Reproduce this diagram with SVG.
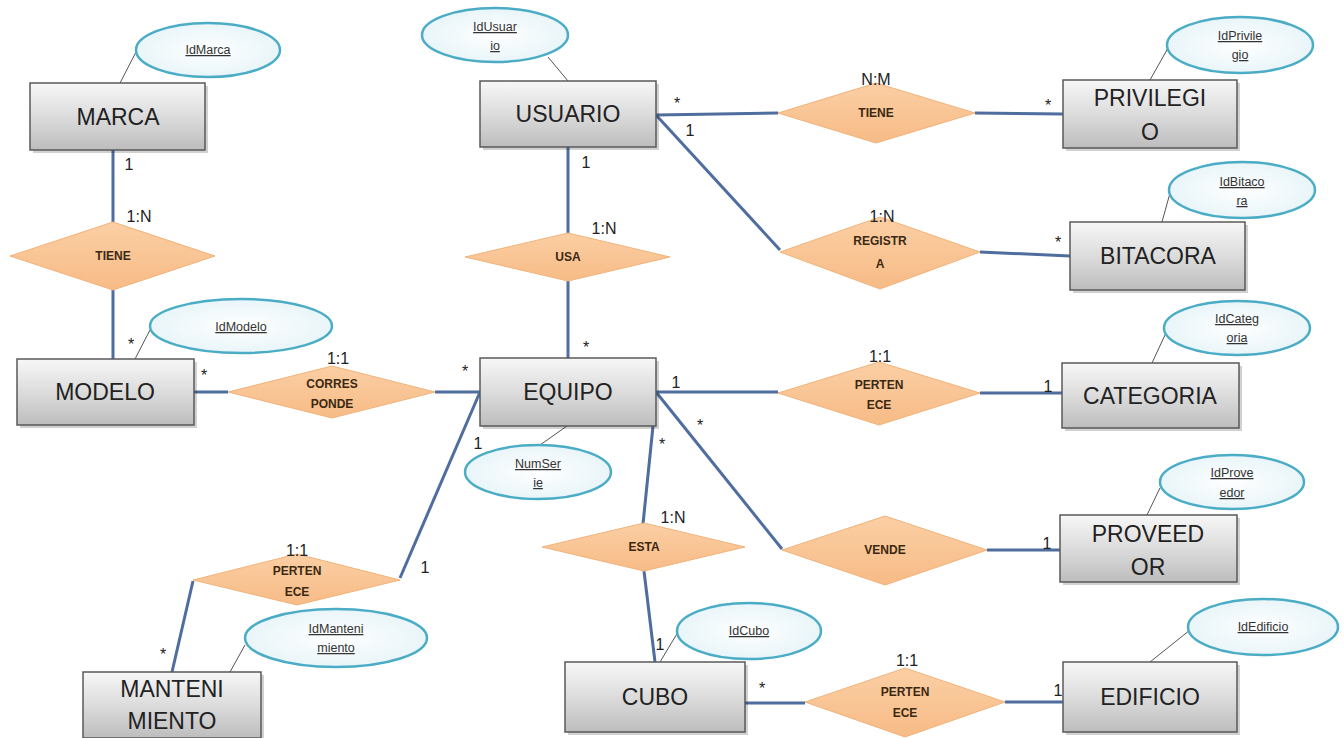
<svg xmlns="http://www.w3.org/2000/svg" width="1344" height="738" viewBox="0 0 1344 738">
<defs>
<linearGradient id="gEnt" x1="0" y1="0" x2="0" y2="1">
<stop offset="0" stop-color="#f7f7f7"/><stop offset="0.5" stop-color="#dcdcdc"/><stop offset="1" stop-color="#bdbdbd"/>
</linearGradient>
<radialGradient id="gAtt" cx="0.5" cy="0.5" r="0.6">
<stop offset="0" stop-color="#ffffff"/><stop offset="1" stop-color="#e4f3f8"/>
</radialGradient>
<linearGradient id="gRel" x1="0" y1="0" x2="0" y2="1">
<stop offset="0" stop-color="#fbcfa4"/><stop offset="1" stop-color="#f7bb86"/>
</linearGradient>
</defs>
<style>
.ent rect.b{fill:url(#gEnt);stroke:#595959;stroke-width:1.5}
.ent rect.s{fill:#000;opacity:0.18}
.ent text{font-family:"Liberation Sans",Arial,sans-serif;font-size:23px;fill:#222;text-anchor:middle}
.att ellipse{fill:url(#gAtt);stroke:#4bacc6;stroke-width:2.5}
.att text{font-family:"Liberation Sans",Arial,sans-serif;font-size:12.5px;fill:#333;text-anchor:middle;text-decoration:underline}
.att line{stroke:#555;stroke-width:1}
.rel polygon{fill:url(#gRel);stroke:#f2b37a;stroke-width:1}
.rel text{font-family:"Liberation Sans",Arial,sans-serif;font-size:12px;fill:#3b2812;text-anchor:middle;font-weight:bold}
.con line,.con polyline{stroke:#4f6d9e;stroke-width:3;fill:none}
.lbl text{font-family:"Liberation Sans",Arial,sans-serif;font-size:16px;fill:#222;text-anchor:middle}
</style>
<rect width="1344" height="738" fill="#ffffff"/>

<g id="connectors" class="con">
<line x1="113" y1="150" x2="113" y2="222"/>
<line x1="113" y1="290" x2="113" y2="359"/>
<line x1="194" y1="392" x2="228" y2="392"/>
<line x1="435" y1="392" x2="480" y2="392"/>
<line x1="568" y1="147" x2="568" y2="233"/>
<line x1="568" y1="281" x2="568" y2="358"/>
<line x1="656" y1="115" x2="778" y2="113"/>
<line x1="975" y1="113" x2="1063" y2="114"/>
<polyline points="656,115 780,250"/>
<line x1="980" y1="252" x2="1070" y2="256"/>
<line x1="656" y1="392" x2="778" y2="392"/>
<line x1="980" y1="393" x2="1062" y2="393"/>
<line x1="656" y1="392" x2="782" y2="549"/>
<line x1="987" y1="550" x2="1060" y2="550"/>
<line x1="653" y1="426" x2="643" y2="524"/>
<line x1="644" y1="571" x2="655" y2="662"/>
<line x1="745" y1="703" x2="805" y2="703"/>
<line x1="1005" y1="702" x2="1063" y2="702"/>
<line x1="480" y1="392" x2="400" y2="578"/>
<line x1="193" y1="581" x2="172" y2="672"/>
</g>

<g id="attr-lines" class="att">
<line x1="120" y1="83" x2="136" y2="52"/>
<line x1="568" y1="81" x2="548" y2="57"/>
<line x1="1150" y1="80" x2="1168" y2="48"/>
<line x1="1162" y1="222" x2="1170" y2="193"/>
<line x1="135" y1="359" x2="150" y2="330"/>
<line x1="1152" y1="363" x2="1165" y2="335"/>
<line x1="567" y1="426" x2="540" y2="445"/>
<line x1="1147" y1="515" x2="1160" y2="488"/>
<line x1="660" y1="662" x2="678" y2="632"/>
<line x1="1150" y1="662" x2="1190" y2="630"/>
<line x1="230" y1="672" x2="245" y2="645"/>
</g>

<g id="MARCA" class="ent"><rect class="s" x="33" y="86" width="175" height="67"/><rect class="b" x="30" y="83" width="175" height="67"/><text x="118" y="125">MARCA</text></g>
<g id="USUARIO" class="ent"><rect class="s" x="483" y="84" width="176" height="66"/><rect class="b" x="480" y="81" width="176" height="66"/><text x="568" y="122">USUARIO</text></g>
<g id="PRIVILEGIO" class="ent"><rect class="s" x="1066" y="83" width="174" height="68"/><rect class="b" x="1063" y="80" width="174" height="68"/><text x="1150" y="106">PRIVILEGI</text><text x="1150" y="140">O</text></g>
<g id="BITACORA" class="ent"><rect class="s" x="1073" y="225" width="175" height="68"/><rect class="b" x="1070" y="222" width="175" height="68"/><text x="1158" y="264">BITACORA</text></g>
<g id="MODELO" class="ent"><rect class="s" x="20" y="362" width="177" height="66"/><rect class="b" x="17" y="359" width="177" height="66"/><text x="105" y="400">MODELO</text></g>
<g id="EQUIPO" class="ent"><rect class="s" x="483" y="361" width="176" height="68"/><rect class="b" x="480" y="358" width="176" height="68"/><text x="568" y="400">EQUIPO</text></g>
<g id="CATEGORIA" class="ent"><rect class="s" x="1065" y="366" width="177" height="65"/><rect class="b" x="1062" y="363" width="177" height="65"/><text x="1150" y="404">CATEGORIA</text></g>
<g id="PROVEEDOR" class="ent"><rect class="s" x="1063" y="518" width="177" height="67"/><rect class="b" x="1060" y="515" width="177" height="67"/><text x="1148" y="542">PROVEED</text><text x="1148" y="575">OR</text></g>
<g id="CUBO" class="ent"><rect class="s" x="568" y="665" width="180" height="70"/><rect class="b" x="565" y="662" width="180" height="70"/><text x="655" y="705">CUBO</text></g>
<g id="EDIFICIO" class="ent"><rect class="s" x="1066" y="665" width="174" height="70"/><rect class="b" x="1063" y="662" width="174" height="70"/><text x="1150" y="705">EDIFICIO</text></g>
<g id="MANTENIMIENTO" class="ent"><rect class="s" x="86" y="675" width="178" height="66"/><rect class="b" x="83" y="672" width="178" height="66"/><text x="172" y="697">MANTENI</text><text x="172" y="729">MIENTO</text></g>

<g id="IdMarca" class="att"><ellipse cx="208" cy="50" rx="72" ry="27"/><text x="208" y="54">IdMarca</text></g>
<g id="IdUsuario" class="att"><ellipse cx="495" cy="35" rx="73" ry="27"/><text x="495" y="31">IdUsuar</text><text x="495" y="50">io</text></g>
<g id="IdPrivilegio" class="att"><ellipse cx="1240" cy="45" rx="73" ry="28"/><text x="1240" y="40">IdPrivile</text><text x="1240" y="59">gio</text></g>
<g id="IdBitacora" class="att"><ellipse cx="1242" cy="190" rx="73" ry="28"/><text x="1242" y="186">IdBitaco</text><text x="1242" y="205">ra</text></g>
<g id="IdModelo" class="att"><ellipse cx="241" cy="326" rx="91" ry="27"/><text x="241" y="331">IdModelo</text></g>
<g id="IdCategoria" class="att"><ellipse cx="1237" cy="328" rx="73" ry="27"/><text x="1237" y="323">IdCateg</text><text x="1237" y="342">oria</text></g>
<g id="NumSerie" class="att"><ellipse cx="538" cy="472" rx="73" ry="27"/><text x="538" y="468">NumSer</text><text x="538" y="487">ie</text></g>
<g id="IdProveedor" class="att"><ellipse cx="1232" cy="482" rx="72" ry="27"/><text x="1232" y="477">IdProve</text><text x="1232" y="497">edor</text></g>
<g id="IdCubo" class="att"><ellipse cx="749" cy="631" rx="72" ry="28"/><text x="749" y="635">IdCubo</text></g>
<g id="IdEdificio" class="att"><ellipse cx="1263" cy="627" rx="75" ry="28"/><text x="1263" y="631">IdEdificio</text></g>
<g id="IdMantenimiento" class="att"><ellipse cx="336" cy="638" rx="91" ry="29"/><text x="336" y="633">IdManteni</text><text x="336" y="652">miento</text></g>

<g id="rel-TIENE-MARCA" class="rel"><polygon points="10,256 113,222 215,256 113,290"/><text x="113" y="260">TIENE</text></g>
<g id="rel-CORRESPONDE" class="rel"><polygon points="228,392 332,366 435,392 332,418"/><text x="332" y="388">CORRES</text><text x="332" y="408">PONDE</text></g>
<g id="rel-USA" class="rel"><polygon points="465,257 568,233 670,257 568,281"/><text x="568" y="261">USA</text></g>
<g id="rel-TIENE-PRIV" class="rel"><polygon points="778,113 876,83 975,113 876,143"/><text x="876" y="117">TIENE</text></g>
<g id="rel-REGISTRA" class="rel"><polygon points="780,252 880,217 980,252 880,289"/><text x="880" y="245">REGISTR</text><text x="880" y="268">A</text></g>
<g id="rel-PERTENECE-CAT" class="rel"><polygon points="778,393 879,362 980,393 879,425"/><text x="879" y="389">PERTEN</text><text x="879" y="409">ECE</text></g>
<g id="rel-VENDE" class="rel"><polygon points="782,550 885,516 987,550 885,585"/><text x="885" y="554">VENDE</text></g>
<g id="rel-ESTA" class="rel"><polygon points="542,547 644,523 745,547 644,571"/><text x="644" y="551">ESTA</text></g>
<g id="rel-PERTENECE-MANT" class="rel"><polygon points="193,580 297,554 400,580 297,605"/><text x="297" y="575">PERTEN</text><text x="297" y="596">ECE</text></g>
<g id="rel-PERTENECE-EDIF" class="rel"><polygon points="805,702 905,668 1005,702 905,737"/><text x="905" y="696">PERTEN</text><text x="905" y="717">ECE</text></g>

<g id="labels" class="lbl">
<text x="129" y="170">1</text>
<text x="139" y="222">1:N</text>
<text x="131" y="350">*</text>
<text x="204" y="381">*</text>
<text x="338" y="364">1:1</text>
<text x="465" y="377">*</text>
<text x="586" y="168">1</text>
<text x="604" y="234">1:N</text>
<text x="586" y="353">*</text>
<text x="677" y="109">*</text>
<text x="690" y="136">1</text>
<text x="876" y="85">N:M</text>
<text x="1048" y="111">*</text>
<text x="882" y="222">1:N</text>
<text x="1058" y="248">*</text>
<text x="676" y="388">1</text>
<text x="880" y="362">1:1</text>
<text x="1048" y="392">1</text>
<text x="700" y="431">*</text>
<text x="662" y="450">*</text>
<text x="478" y="449">1</text>
<text x="673" y="523">1:N</text>
<text x="1047" y="549">1</text>
<text x="660" y="650">1</text>
<text x="762" y="694">*</text>
<text x="907" y="666">1:1</text>
<text x="1058" y="696">1</text>
<text x="297" y="556">1:1</text>
<text x="425" y="573">1</text>
<text x="163" y="660">*</text>
</g>
</svg>
